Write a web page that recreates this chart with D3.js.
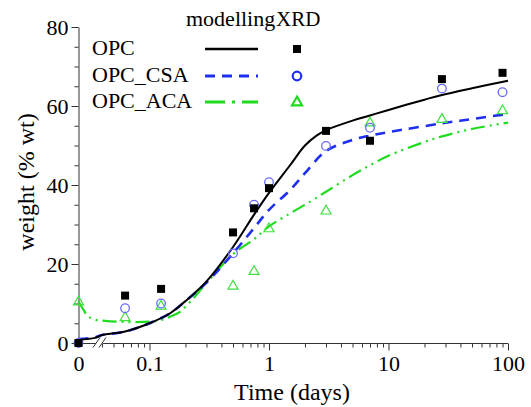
<!DOCTYPE html>
<html><head><meta charset="utf-8">
<script src="https://cdn.jsdelivr.net/npm/d3@7"></script>
<style>
html,body{margin:0;padding:0;background:#fff;}
svg{display:block;font-family:"Liberation Serif","Times New Roman",serif;}
</style></head>
<body>
<svg id="chart" width="531" height="407"></svg>
<script>
// ---- data ----
const seriesNames = ["OPC", "OPC_CSA", "OPC_ACA"];
const xrdTimes = [0, 0.0625, 0.125, 0.5, 0.75, 1, 3, 7, 28, 90];
const xrdOPC = [0, 12.0, 13.7, 28.0, 34.1, 39.2, 53.7, 51.2, 66.8, 68.4];
const xrdCSA = [0, 8.8, 10.0, 22.7, 35.0, 40.7, 49.9, 54.5, 64.4, 63.5];
const xrdACA = [10.5, 6.5, 9.4, 14.5, 18.2, 29.0, 33.5, 55.8, 56.7, 58.9];

const modTimesOPC = [0, 0.035, 0.04, 0.0625, 0.1, 0.15, 0.2, 0.3, 0.5, 0.75, 1, 1.5, 2, 2.5, 3, 5, 7, 10, 20, 28, 50, 100];
const modOPC =      [0.8, 1.3, 2.0, 2.9, 5.0, 7.6, 10.6, 15.6, 24.3, 32.5, 38.0, 45.0, 50.0, 52.5, 53.9, 56.3, 57.6, 59.0, 61.6, 62.8, 64.5, 66.4];
const modTimesCSA = [0, 0.035, 0.04, 0.0625, 0.1, 0.15, 0.2, 0.3, 0.5, 0.75, 1, 1.5, 2, 3, 5, 7, 10, 28, 50, 100];
const modCSA =      [1.0, 1.4, 2.0, 2.9, 5.0, 7.6, 10.6, 15.3, 22.7, 29.1, 33.7, 38.7, 43.0, 48.6, 51.4, 52.5, 53.4, 55.6, 56.7, 58.0];
const modTimesACA = [0, 0.01, 0.02, 0.035, 0.04, 0.0625, 0.1, 0.125, 0.15, 0.18, 0.22, 0.3, 0.5, 0.75, 1, 1.5, 2, 3, 5, 7, 10, 20, 28, 50, 100];
const modACA =      [10.5, 8.5, 6.8, 5.9, 5.7, 5.3, 5.4, 5.8, 6.7, 7.9, 10.5, 15.2, 22.5, 26.3, 29.5, 32.8, 35.0, 38.3, 42.5, 45.0, 47.4, 50.9, 52.3, 54.2, 55.8];

const yMajor = [0, 20, 40, 60, 80];
const yMinor = [5, 10, 15, 25, 30, 35, 45, 50, 55, 65, 70, 75];
const xMajor = [0.1, 1, 10, 100];
const xMinor = [0.04,0.05,0.06,0.07,0.08,0.09,0.2,0.3,0.4,0.5,0.6,0.7,0.8,0.9,2,3,4,5,6,7,8,9,20,30,40,50,60,70,80,90];

// ---- styles ----
const colors = ["#000000", "#1f2ff0", "#1fdc1f"];
const markerColors = ["#000000", "#6a6aff", "#3fe03f"];
const dashes = [null, "10,7", "14,5,2,5,2,5"];

const svg = d3.select("#chart");
const y = d3.scaleLinear().domain([0, 80]).range([343, 27]);
const xLog = d3.scaleLog().domain([0.035, 100]).range([95, 508]);
const xZero = d3.scaleLinear().domain([0, 0.035]).range([78.5, 95]);
const x = t => t < 0.035 ? xZero(t) : xLog(t);
const axisColor = "#333";

// ---- y axis ----
const gy = svg.append("g").attr("transform", "translate(78.5,0)");
gy.call(d3.axisLeft(y).tickValues(yMajor).tickSize(7).tickSizeOuter(0).tickPadding(3));
gy.append("g").call(d3.axisLeft(y).tickValues(yMinor).tickSize(4).tickFormat(""));
gy.selectAll("g g .domain").remove();
gy.selectAll("path,line").attr("stroke", axisColor);
gy.selectAll("text").attr("fill", "#000").style("font-size", "22px").style("font-family", "Liberation Serif");

// ---- x axis (broken) ----
const gx = svg.append("g").attr("transform", "translate(0,343.5)");
const gxa = gx.append("g").call(d3.axisBottom(xLog).tickValues(xMajor).tickSize(7).tickPadding(5).tickFormat(d => String(d)));
gxa.select(".domain").remove();
const gxm = gx.append("g").call(d3.axisBottom(xLog).tickValues(xMinor).tickSize(4).tickFormat(""));
gxm.select(".domain").remove();
const gx0 = gx.append("g").call(d3.axisBottom(xZero).tickValues([0]).tickSize(0).tickPadding(12).tickFormat(d => String(d)));
gx0.select(".domain").remove();
gx.append("line").attr("x1", 78.5).attr("x2", 96).attr("y1", 0).attr("y2", 0);
gx.append("line").attr("x1", 103).attr("x2", 508).attr("y1", 0).attr("y2", 0);
gx.append("line").attr("x1", 93).attr("x2", 100).attr("y1", 4).attr("y2", -6);
gx.append("line").attr("x1", 99).attr("x2", 106).attr("y1", 4).attr("y2", -6);
gx.selectAll("line,path").attr("stroke", axisColor).attr("stroke-width", 1);
gx.selectAll("text").attr("fill", "#000").style("font-size", "22px").style("font-family", "Liberation Serif");

// ---- axis titles ----
svg.append("text").attr("x", 292).attr("y", 400).attr("text-anchor", "middle")
  .style("font-size", "24px").text("Time (days)");
svg.append("text").attr("transform", "translate(34,182) rotate(-90)").attr("text-anchor", "middle")
  .style("font-size", "24px").text("weight (% wt)");

// ---- model curves ----
const line = d3.line().x(d => x(d[0])).y(d => y(d[1])).curve(d3.curveCatmullRom.alpha(0.5));
const curves = [
  d3.zip(modTimesOPC, modOPC),
  d3.zip(modTimesCSA, modCSA),
  d3.zip(modTimesACA, modACA)
];
const widths = [2, 2.6, 2.2];
[2, 1, 0].forEach(i => {
  svg.append("path").attr("d", line(curves[i])).attr("fill", "none")
    .attr("stroke", colors[i]).attr("stroke-width", widths[i])
    .attr("stroke-dasharray", dashes[i]);
});

// ---- XRD markers ----
const triPath = s => { const h = s * 0.87; return `M0,${-h*0.62}L${s/2},${h*0.38}L${-s/2},${h*0.38}Z`; };
function drawMarker(g, kind, cx, cy, col, sw) {
  if (kind === 0) {
    g.append("rect").attr("x", cx - 4).attr("y", cy - 4).attr("width", 8).attr("height", 8).attr("fill", col);
  } else if (kind === 1) {
    g.append("circle").attr("cx", cx).attr("cy", cy).attr("r", 4.3).attr("fill", "none").attr("stroke", col).attr("stroke-width", sw);
  } else {
    g.append("path").attr("d", triPath(10)).attr("transform", `translate(${cx},${cy})`)
      .attr("fill", "none").attr("stroke", col).attr("stroke-width", sw);
  }
}
const gm = svg.append("g");
xrdTimes.forEach((t, j) => drawMarker(gm, 2, x(t), y(xrdACA[j]), markerColors[2], 1.2));
xrdTimes.forEach((t, j) => drawMarker(gm, 1, x(t), y(xrdCSA[j]), markerColors[1], 1.3));
xrdTimes.forEach((t, j) => drawMarker(gm, 0, x(t), y(xrdOPC[j]), markerColors[0], 1));

// ---- legend ----
const lg = svg.append("g");
lg.append("text").attr("x", 186).attr("y", 26).style("font-size", "22px").text("modelling");
lg.append("text").attr("x", 276).attr("y", 26).style("font-size", "21px").text("XRD");
const legY = [49, 76, 102];
seriesNames.forEach((n, i) => {
  lg.append("text").attr("x", 92).attr("y", legY[i] + 6).style("font-size", "22px").text(n);
  lg.append("line").attr("x1", 205).attr("x2", 258).attr("y1", legY[i]).attr("y2", legY[i])
    .attr("stroke", colors[i]).attr("stroke-width", i === 0 ? 2.6 : 3)
    .attr("stroke-dasharray", i === 2 ? "20,7,3,7" : dashes[i]);
  drawMarker(lg, i, 297, legY[i], i === 0 ? "#000" : colors[i], 2.2);
});
</script>
</body></html>
